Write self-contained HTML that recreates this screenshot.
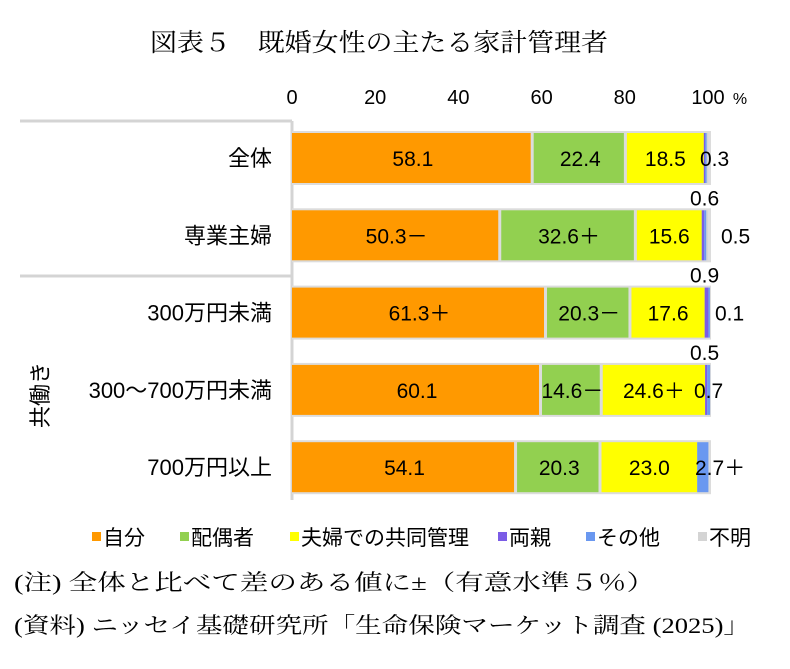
<!DOCTYPE html>
<html><head><meta charset="utf-8"><style>
html,body{margin:0;padding:0;background:#fff;}
svg text{font-family:"Liberation Sans","Noto Sans CJK JP",sans-serif;}
.serif{font-family:"Liberation Serif","Noto Serif CJK JP",serif !important;}
</style></head><body>
<svg id="chart" width="790" height="664" viewBox="0 0 790 664">
<text x="150" y="51" font-size="25" textLength="458" lengthAdjust="spacingAndGlyphs" class="serif">図表５　既婚女性の主たる家計管理者</text>
<g id="axis"></g>
<g id="frame" stroke="#d4d4d4" stroke-width="3" fill="none">
<line x1="20" y1="121" x2="292" y2="121"/>
<line x1="292" y1="121" x2="292" y2="500"/>
<line x1="20" y1="276" x2="292" y2="276"/>
</g>
<text x="0" y="0" font-size="22" text-anchor="middle" transform="translate(48,395) rotate(-90)">共働き</text>
<g id="bars"></g>
<g id="cats"></g>
<g id="ann"></g>
<g id="legend"></g>
<text x="14" y="590" font-size="22" textLength="641" lengthAdjust="spacingAndGlyphs" class="serif">(注)  全体と比べて差のある値に±（有意水準５％）</text>
<text x="14" y="633" font-size="22" textLength="736" lengthAdjust="spacingAndGlyphs" class="serif">(資料) ニッセイ基礎研究所「生命保険マーケット調査 (2025)」</text>
</svg>
<script>
const categories = ["全体","専業主婦","300万円未満","300～700万円未満","700万円以上"];
const seriesNames = ["自分","配偶者","夫婦での共同管理","両親","その他","不明"];
const selfVals = [58.1,50.3,61.3,60.1,54.1];
const spouseVals = [22.4,32.6,20.3,14.6,20.3];
const coupleVals = [18.5,15.6,17.6,24.6,23.0];
const parentVals = [0.3,0.6,0.9,0.5,0.0];
const otherVals = [0.4,0.5,0.1,0.7,2.7];
const unknownVals = [0.3,0.4,0.0,0.0,0.0];
const selfLabels = ["58.1","50.3－","61.3＋","60.1","54.1"];
const spouseLabels = ["22.4","32.6＋","20.3－","14.6－","20.3"];
const coupleLabels = ["18.5","15.6","17.6","24.6＋","23.0"];
const smallLabels = [["0.3"],["0.6","0.5"],["0.9","0.1"],["0.5","0.7"],["2.7＋"]];
const ticks = [0,20,40,60,80,100];
const colors = ["#FF9900","#92D050","#FFFF00","#7B5CE6","#6A98F0","#D4D4D4"];
const NS="http://www.w3.org/2000/svg";
const x0=292, x1=708;
const xs=v=>x0+(x1-x0)*v/100;
const rowY=i=>158+i*77.3;
const bh=50;
function mk(tag,attrs,parent,txt){const e=document.createElementNS(NS,tag);for(const k in attrs)e.setAttribute(k,attrs[k]);if(txt!==undefined)e.textContent=txt;parent.appendChild(e);return e;}
const axis=document.getElementById('axis');
ticks.forEach(t=>{const e=mk('text',{x:xs(t),y:104,'font-size':20,'text-anchor':'middle'},axis,String(t));

});
const pct=mk('text',{x:740,y:104,'font-size':16,'text-anchor':'middle'},axis,'%');


const all=[selfVals,spouseVals,coupleVals,parentVals,otherVals,unknownVals];
const bars=document.getElementById('bars');
categories.forEach((c,i)=>{
  const y=rowY(i)-bh/2;
  const bg=mk('rect',{x:x0,y:y-2,width:xs(100)-x0+3,height:bh+4,fill:'#dcdcdc'},bars);
  
  
  let cum=0;
  all.forEach((s,j)=>{
    const v=s[i]; if(v<=0){return;}
    const r=mk('rect',{x:xs(cum),y:y,width:Math.max(xs(cum+v)-xs(cum)-(j<2?3:0),1.5),height:bh,fill:colors[j]},bars);
    
    
    cum+=v;
  });
  const cl=mk('text',{x:272,y:rowY(i)+8,'font-size':22,'text-anchor':'end'},document.getElementById('cats'),c);
  
  
});
const ann=document.getElementById('ann');
function lab(x,y,t,anchor){const e=mk('text',{x:x,y:y,'font-size':21,'text-anchor':anchor||'middle'},ann,t);

return e;}
categories.forEach((c,i)=>{
  const yy=rowY(i)+8;
  lab((xs(0)+xs(selfVals[i]))/2,yy,selfLabels[i]);
  lab((xs(selfVals[i])+xs(selfVals[i]+spouseVals[i]))/2,yy,spouseLabels[i]);
  const s2=selfVals[i]+spouseVals[i];
  lab((xs(s2)+xs(s2+coupleVals[i]))/2,yy,coupleLabels[i]);
});
lab(700,rowY(0)+8,smallLabels[0][0],'start');
lab(690,rowY(1)-30,smallLabels[1][0],'start');
lab(721,rowY(1)+8,smallLabels[1][1],'start');
lab(690,rowY(2)-30,smallLabels[2][0],'start');
lab(715,rowY(2)+8,smallLabels[2][1],'start');
lab(690,rowY(3)-30,smallLabels[3][0],'start');
lab(694,rowY(3)+8,smallLabels[3][1],'start');
lab(695,rowY(4)+8,smallLabels[4][0],'start');
const leg=document.getElementById('legend');
let lx=92;
const legW=[68,90,188,68,92,60];
seriesNames.forEach((n,j)=>{
  const sq=mk('rect',{x:lx,y:532,width:9,height:9,fill:colors[j]},leg);
  
  
  const t=mk('text',{x:lx+11,y:545,'font-size':21},leg,n);
  
  
  lx+=legW[j]+20;
});
</script>
</body></html>
